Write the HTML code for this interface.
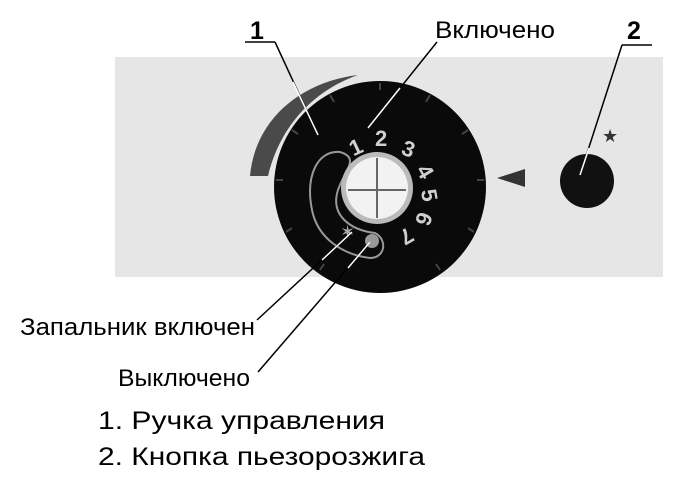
<!DOCTYPE html>
<html><head><meta charset="utf-8"><style>
body{margin:0;background:#fff;width:685px;height:482px;overflow:hidden;font-family:"Liberation Sans",sans-serif}
</style></head><body>
<svg width="685" height="482" xmlns="http://www.w3.org/2000/svg" font-family="Liberation Sans, sans-serif">
<rect x="115" y="57" width="548" height="220" fill="#e6e6e6"/>
<path d="M250,176 C255,120 300,82 358,75 C315,90 280,125 268,176 Z" fill="#4a4a4a"/>
<circle cx="380" cy="187" r="106" fill="#0a0a0a"/>
<g stroke="#444" stroke-width="2">
<line x1="380" y1="83" x2="380" y2="90"/><line x1="430" y1="95" x2="426" y2="102"/><line x1="468" y1="130" x2="462" y2="134"/><line x1="484" y1="180" x2="477" y2="180"/><line x1="474" y1="232" x2="468" y2="228"/><line x1="440" y1="270" x2="436" y2="264"/><line x1="330" y1="95" x2="334" y2="102"/><line x1="292" y1="130" x2="298" y2="134"/><line x1="276" y1="180" x2="283" y2="180"/><line x1="286" y1="232" x2="292" y2="228"/><line x1="320" y1="270" x2="324" y2="264"/>
</g>
<path d="M340,152 C318,150 305,175 312,210 C318,240 345,255 370,258 C385,258 388,240 375,233 C350,230 330,215 338,190 C345,170 360,158 340,152 Z" fill="none" stroke="#999" stroke-width="2"/>
<circle cx="377" cy="188" r="36" fill="#bbb"/>
<circle cx="377" cy="188" r="31" fill="#f2f2f2"/>
<line x1="377" y1="158" x2="377" y2="218" stroke="#666" stroke-width="2"/>
<line x1="348" y1="190" x2="406" y2="190" stroke="#666" stroke-width="2"/>
<g fill="#d0d0d0" font-weight="bold" font-size="22">
<text x="349" y="154" transform="rotate(-25 357 145)">1</text>
<text x="375" y="146">2</text>
<text x="402" y="157" transform="rotate(20 410 150)">3</text>
<text x="419" y="180" transform="rotate(60 426 172)">4</text>
<text x="423" y="204" transform="rotate(80 430 196)">5</text>
<text x="417" y="228" transform="rotate(110 424 220)">6</text>
<text x="399" y="245" transform="rotate(150 406 237)">7</text>
</g>
<circle cx="372" cy="241" r="7" fill="#999"/>
<text x="340" y="238" fill="#aaa" font-size="18">✶</text>
<polygon points="497,178 525,169 525,187" fill="#333"/>
<circle cx="587" cy="181" r="27" fill="#111"/>
<text x="602" y="142" fill="#333" font-size="18">★</text>
<g stroke="#000" stroke-width="1.5">
<line x1="245" y1="42" x2="275" y2="42"/><line x1="275" y1="42" x2="318" y2="135"/>
<line x1="622" y1="45" x2="652" y2="45"/><line x1="622" y1="45" x2="580" y2="175"/>
<line x1="437" y1="42" x2="368" y2="128"/>
<line x1="257" y1="320" x2="352" y2="232"/>
<line x1="258" y1="372" x2="370" y2="242"/>
</g>
<g stroke="#fff" stroke-width="1.5">
<line x1="293" y1="82" x2="318" y2="135"/>
<line x1="400" y1="88" x2="368" y2="128"/>
<line x1="589" y1="148" x2="580" y2="175"/>
<line x1="322" y1="260" x2="352" y2="232"/>
<line x1="348" y1="268" x2="370" y2="242"/>
</g>
<text x="250" y="39" font-size="25" font-weight="bold">1</text>
<text x="627" y="39" font-size="25" font-weight="bold">2</text>
<text x="435" y="38" font-size="24" textLength="120" lengthAdjust="spacingAndGlyphs">Включено</text>
<text x="20" y="335" font-size="24" textLength="235" lengthAdjust="spacingAndGlyphs">Запальник включен</text>
<text x="118" y="386" font-size="24" textLength="132" lengthAdjust="spacingAndGlyphs">Выключено</text>
<text x="98" y="429" font-size="25" textLength="287" lengthAdjust="spacingAndGlyphs">1.  Ручка управления</text>
<text x="98" y="465" font-size="25" textLength="327" lengthAdjust="spacingAndGlyphs">2.  Кнопка пьезорозжига</text>
</svg>
</body></html>
